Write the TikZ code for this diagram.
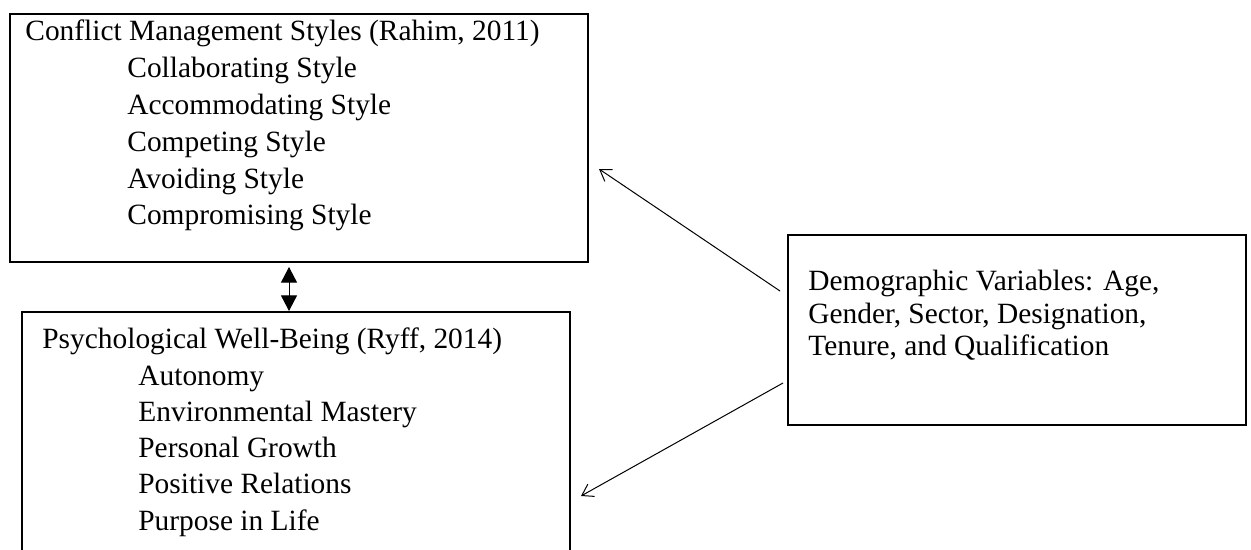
\documentclass[tikz,border=0pt]{standalone}
\usepackage{fontspec}
\setmainfont{Liberation Serif}
\usetikzlibrary{arrows.meta}

\begin{document}
\begin{tikzpicture}[x=0.5pt,y=-0.5pt,
  box/.style={draw,line width=1pt,anchor=north west,inner sep=0pt},
  lbl/.style={anchor=base west,inner sep=0pt,font=\fontsize{14.7pt}{17pt}\selectfont},
  link/.style={line width=0.5pt,-{Straight Barb[length=5.4pt,width=7pt]}},
  both/.style={line width=0.5pt,{Triangle[width=8pt,length=7.8pt]}-{Triangle[width=8pt,length=7.8pt]}}]
 \clip (0,0) rectangle (1251,550);
 % the three boxes
 \node[box,minimum width=289pt,minimum height=124pt] (cms) at (9,13) {};
 \node[box,minimum width=274pt,minimum height=130pt] (pwb) at (21,311) {};
 \node[box,minimum width=229pt,minimum height=95pt] (demo) at (787,234) {};
 % conflict management styles
 \node[lbl] (cmsHead) at (25,41) {Conflict Management Styles (Rahim, 2011)};
 \foreach \s [count=\i] in {Collaborating,Accommodating,Competing,Avoiding,Compromising}{
   \node[lbl] (cms\i) at (127,41+36.8*\i) {\s{} Style};
 }
 % psychological well-being
 \node[lbl] (pwbHead) at (42,349) {Psychological Well-Being (Ryff, 2014)};
 \foreach \s [count=\i] in {Autonomy,Environmental Mastery,Personal Growth,Positive Relations,Purpose in Life}{
   \node[lbl] (pwb\i) at (138,349+36.2*\i) {\s};
 }
 % demographics
 \node[lbl] (demo0) at (808,291) {Demographic Variables: Age,};
 \node[lbl] (demo1) at (808,323) {Gender, Sector, Designation,};
 \node[lbl] (demo2) at (808,355) {Tenure, and Qualification};
 % connectors
 \draw[both] ([shift={(-10,4)}]cms.south) coordinate (top) -- (top |- pwb.north);
 \draw[link] ([shift={(-7,-39)}]demo.west) -- ([shift={(10,31)}]cms.east);
 \draw[link] ([shift={(-4,53)}]demo.west) -- ([shift={(10,54)}]pwb.east);
\end{tikzpicture}
\end{document}
